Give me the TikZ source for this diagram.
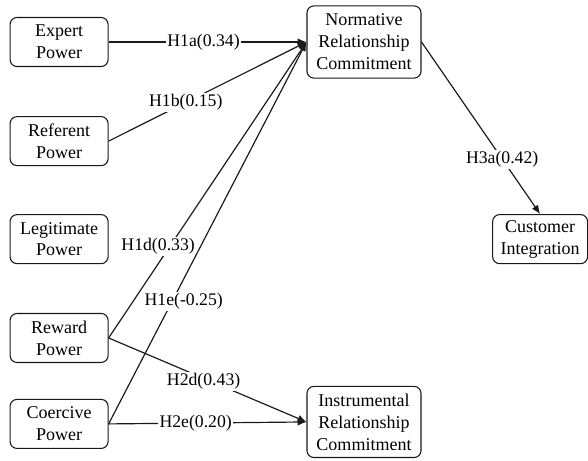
\documentclass[tikz,border=0pt]{standalone}
\usepackage{fontspec}
\setmainfont{Liberation Serif}
\usetikzlibrary{arrows.meta, positioning}
\definecolor{InkBlack}{HTML}{1A1A1A}
\tikzset{
  construct/.style={draw=InkBlack, line width=1.1pt, rounded corners=7pt, fill=white, align=center, minimum width=3.5cm, minimum height=1.75cm, inner sep=2pt, font=\fontsize{18.3}{22.3}\selectfont},
  outcome/.style={construct, minimum width=4.07cm, minimum height=2.58cm},
  path/.style={-{Latex[length=9pt, width=7.5pt]}, line width=1.2pt, draw=InkBlack},
  coef/.style={fill=white, inner sep=1.5pt, font=\fontsize{18}{22}\selectfont}
}
\begin{document}
\begin{tikzpicture}
\useasboundingbox (0,0) rectangle (21,-16.43);
% power bases
\node[construct] (expert) at (2.11,-1.5) {Expert\\Power};
\node[construct] (referent) at (2.11,-5.04) {Referent\\Power};
\node[construct] (legit) at (2.11,-8.54) {Legitimate\\Power};
\node[construct] (reward) at (2.11,-12.07) {Reward\\Power};
\node[construct] (coercive) at (2.11,-15.14) {Coercive\\Power};
% commitment and outcome
\node[outcome] (normative) at (13.0,-1.5) {Normative\\Relationship\\Commitment};
\node[outcome, minimum height=2.54cm] (instrumental) at (13.0,-15.07) {Instrumental\\Relationship\\Commitment};
\node[construct, minimum width=3.39cm] (integration) at (19.29,-8.54) {Customer\\Integration};
% hypothesised paths
\draw[path] (expert.east) -- node[coef, pos=0.48] {H1a(0.34)} (normative.west);
\draw[path] (referent.east) -- node[coef, pos=0.39] {H1b(0.15)} (normative.west);
\draw[path] (reward.east) -- node[coef, pos=0.31, xshift=-12pt] {H1d(0.33)} (normative.west);
\draw[path] (coercive.east) -- node[coef, pos=0.32, xshift=12pt] {H1e(-0.25)} (normative.west);
\draw[path] (reward.east) -- node[coef, pos=0.52, xshift=-8pt] {H2d(0.43)} (instrumental.west);
\draw[path] (coercive.east) -- node[coef, pos=0.44] {H2e(0.20)} (instrumental.west);
\draw[path] (normative.east) -- node[coef, pos=0.68] {H3a(0.42)} (integration.north);
\end{tikzpicture}
\end{document}
